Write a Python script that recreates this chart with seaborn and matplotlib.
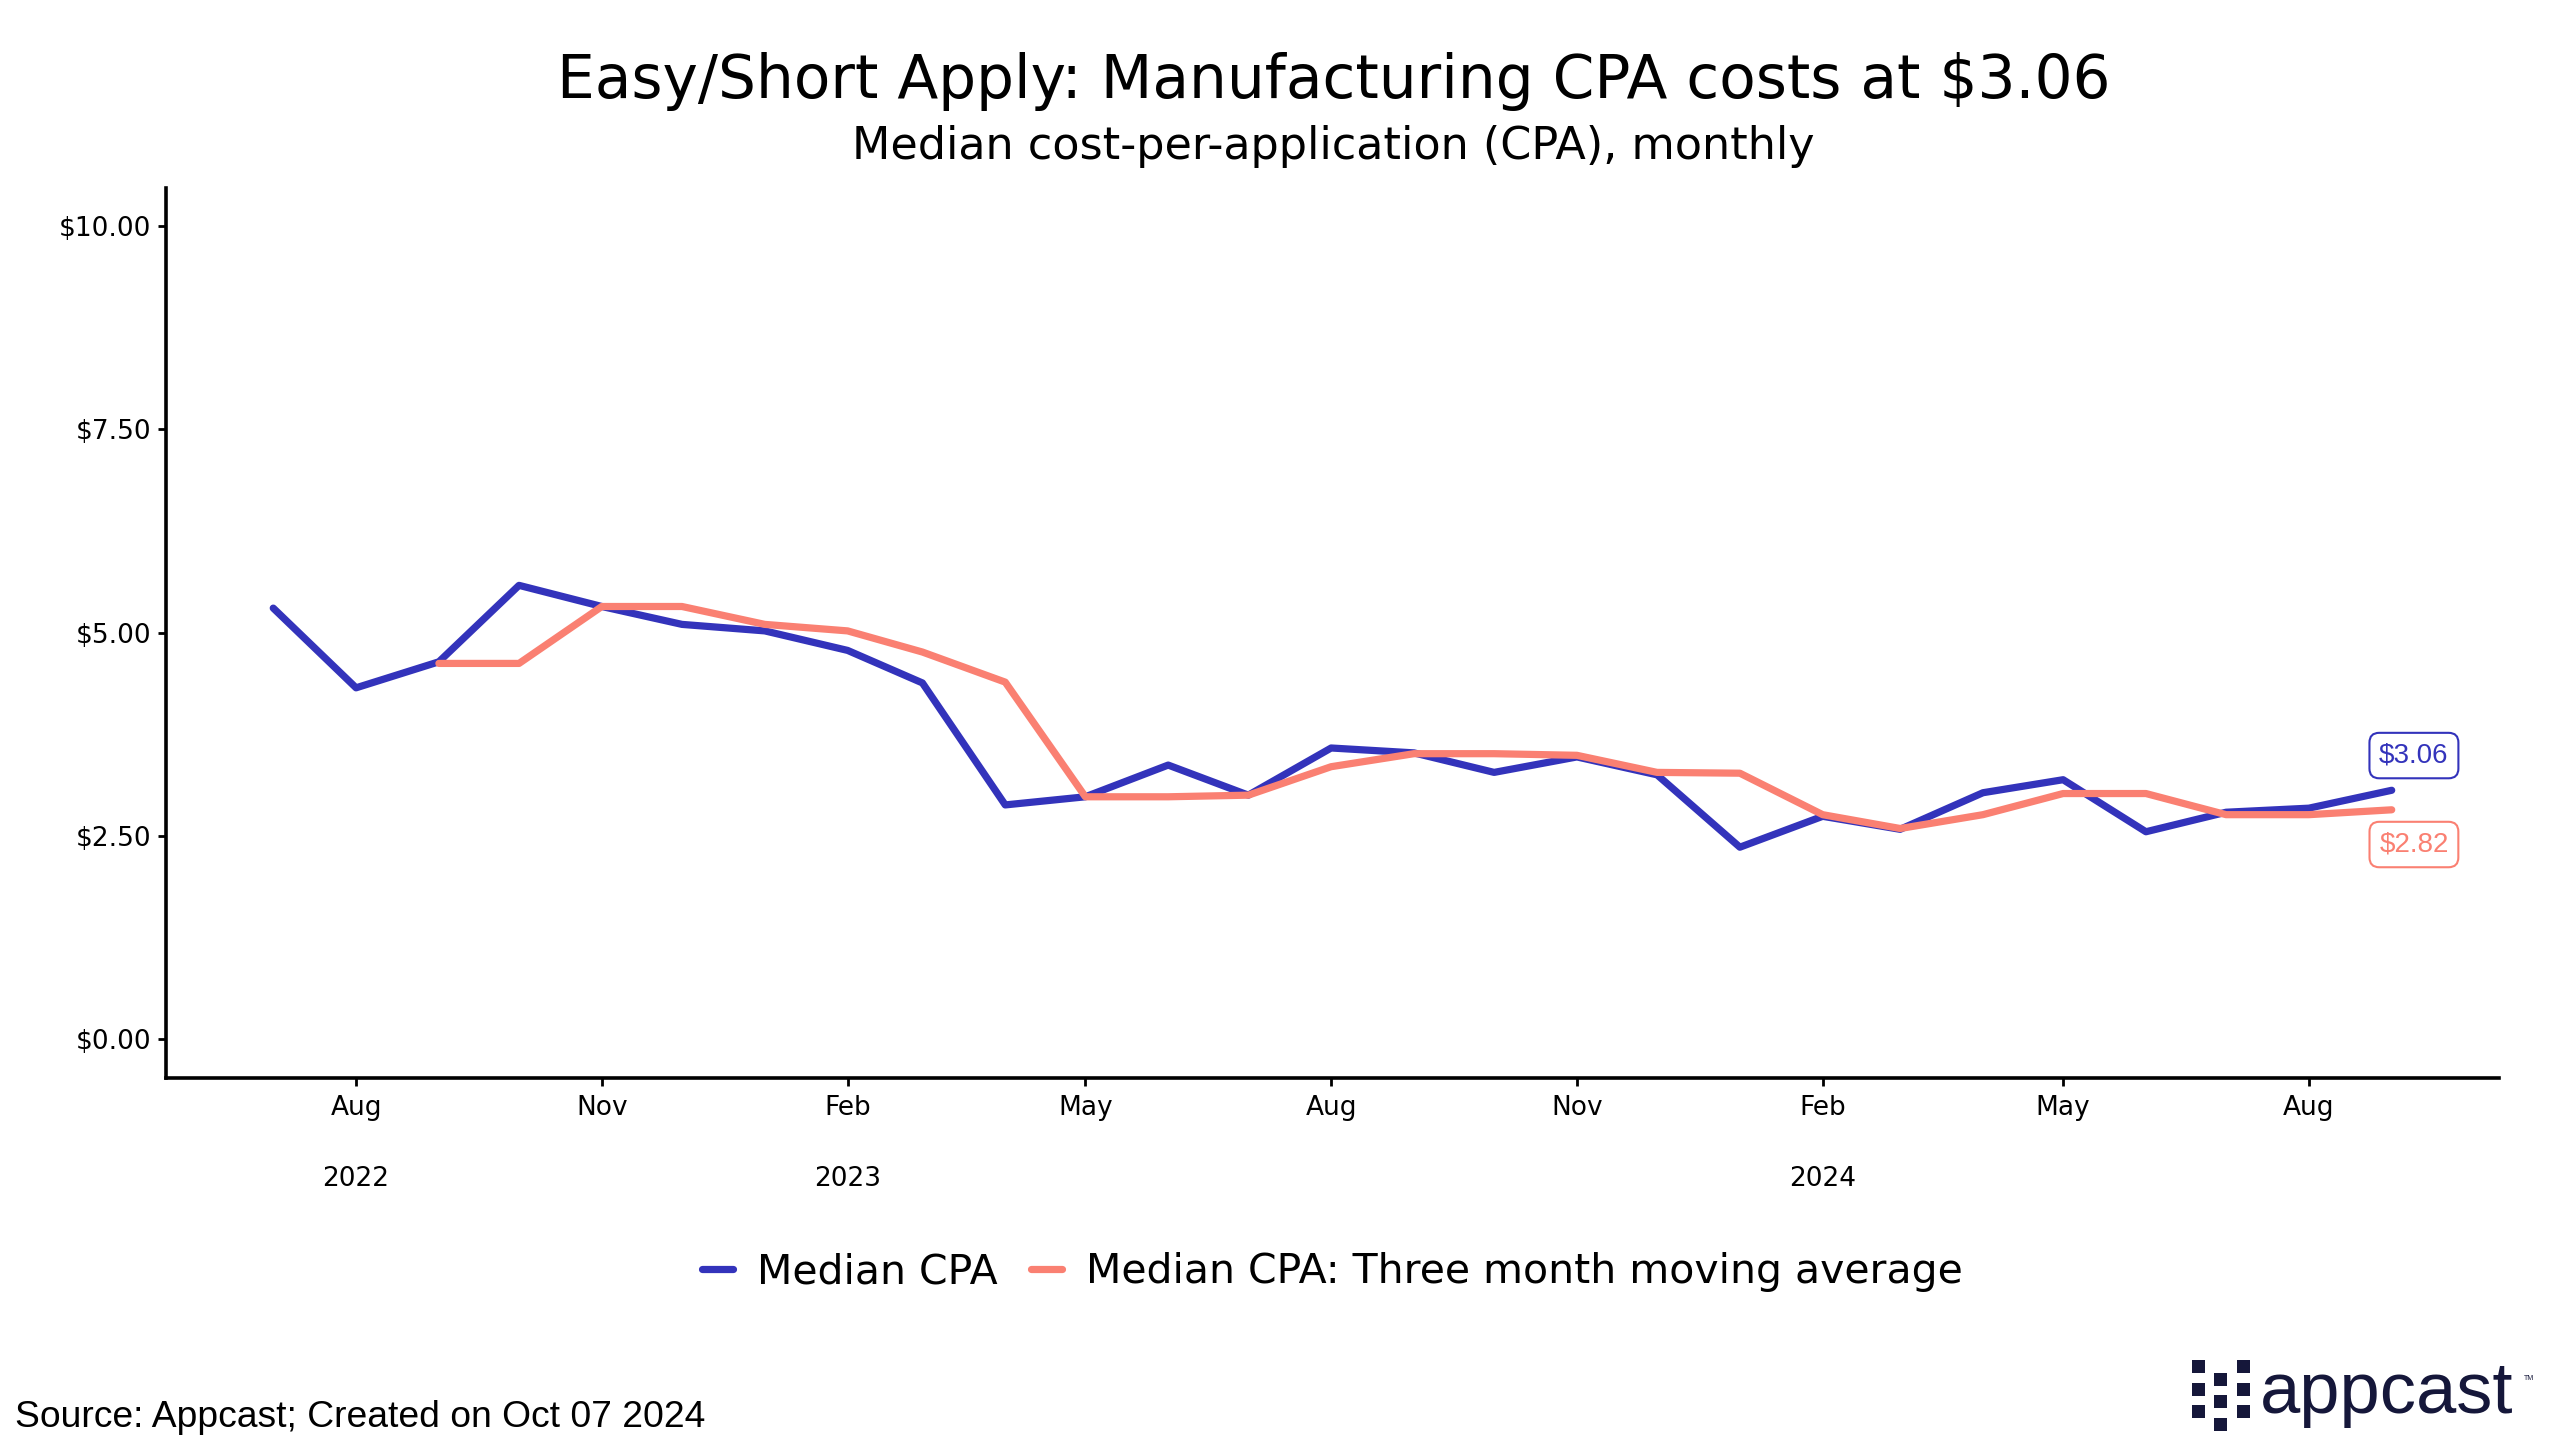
import pandas as pd
import numpy as np
import seaborn as sns
import matplotlib.pyplot as plt
import matplotlib.dates as mdates
from matplotlib.patches import Rectangle

# monthly values (Jul 2022 .. Sep 2024)
months = pd.date_range("2022-07-01", "2024-09-01", freq="MS")
median_cpa = [5.30, 4.32, 4.64, 5.58, 5.32, 5.10, 5.02, 4.78, 4.38, 2.88,
              2.98, 3.37, 3.00, 3.58, 3.52, 3.28, 3.47, 3.25, 2.36, 2.74,
              2.58, 3.03, 3.19, 2.55, 2.79, 2.84, 3.06]
moving_avg = [np.nan, np.nan, 4.62, 4.62, 5.32, 5.32, 5.10, 5.02, 4.76, 4.39,
              2.98, 2.98, 3.00, 3.35, 3.51, 3.51, 3.49, 3.28, 3.27, 2.76,
              2.59, 2.76, 3.02, 3.02, 2.76, 2.76, 2.82]
series_names = ["Median CPA", "Median CPA: Three month moving average"]
series_colors = ["#3333BB", "#FA8072"]
y_ticks = [0, 2.5, 5, 7.5, 10]
year_labels = ["2022", "2023", "2024"]
year_dates = pd.to_datetime(["2022-08-01", "2023-02-01", "2024-02-01"])


def main():
    df = pd.concat([
        pd.DataFrame({"month": months, "cpa": median_cpa, "series": series_names[0]}),
        pd.DataFrame({"month": months, "cpa": moving_avg, "series": series_names[1]}),
    ]).dropna()

    sns.set_theme(style="white")
    plt.rcParams["font.family"] = ["DejaVu Sans"]
    plt.rcParams["text.color"] = "black"

    fig = plt.figure(figsize=(25.6, 14.55), dpi=100)
    ax = fig.add_axes([0.065, 0.259, 0.911, 0.612])

    palette = dict(zip(series_names, series_colors))
    sns.lineplot(data=df, x="month", y="cpa", hue="series", hue_order=series_names,
                 palette=palette, linewidth=5.2, ax=ax)

    # axes look
    sns.despine(ax=ax)
    for side in ["left", "bottom"]:
        ax.spines[side].set_color("black")
        ax.spines[side].set_linewidth(2.6)
    ax.set_xlim(pd.Timestamp("2022-05-22"), pd.Timestamp("2024-10-11"))
    ax.set_ylim(-0.48, 10.47)
    ax.set_yticks(y_ticks)
    ax.set_yticklabels([f"${v:.2f}" for v in y_ticks])
    ax.xaxis.set_major_locator(mdates.MonthLocator(bymonth=[2, 5, 8, 11]))
    ax.xaxis.set_major_formatter(mdates.DateFormatter("%b"))
    ax.tick_params(axis="both", which="major", length=6, width=2, color="black",
                   labelsize=19, labelcolor="black", bottom=True, left=True)
    ax.tick_params(axis="x", pad=6)
    ax.tick_params(axis="y", pad=5)
    ax.set_xlabel("")
    ax.set_ylabel("")
    ax.grid(False)

    # year labels under the months
    for d, lab in zip(year_dates, year_labels):
        ax.text(d, -0.1135, lab, transform=ax.get_xaxis_transform(),
                ha="center", va="center", fontsize=19, color="black")

    # end-of-line value labels
    last = months[-1]
    ax.annotate(f"${median_cpa[-1]:.2f}", xy=(last, median_cpa[-1]),
                xytext=(16, 25), textcoords="offset points", ha="center", va="center",
                fontsize=20, color=series_colors[0], family="Liberation Sans",
                bbox=dict(boxstyle="round,pad=0.35", fc="white", ec=series_colors[0], lw=1.5))
    ax.annotate(f"${moving_avg[-1]:.2f}", xy=(last, moving_avg[-1]),
                xytext=(16, -25), textcoords="offset points", ha="center", va="center",
                fontsize=20, color=series_colors[1], family="Liberation Sans",
                bbox=dict(boxstyle="round,pad=0.35", fc="white", ec=series_colors[1], lw=1.5))

    # legend below the plot
    sns.move_legend(ax, "center", bbox_to_anchor=(0.5, -0.218), ncol=2, frameon=False,
                    title=None, fontsize=29.5, handlelength=0.75, handletextpad=0.6,
                    columnspacing=0.8, labelcolor="black")

    # titles
    fig.text(0.521, 0.944, "Easy/Short Apply: Manufacturing CPA costs at $3.06",
             ha="center", va="center", fontsize=43, color="black")
    fig.text(0.521, 0.899, "Median cost-per-application (CPA), monthly",
             ha="center", va="center", fontsize=32, color="black")

    # source note
    fig.text(0.006, 0.026, "Source: Appcast; Created on Oct 07 2024", ha="left",
             va="center", fontsize=26.8, color="black", family="Liberation Sans")

    # appcast logo
    W, H = 2560, 1455
    navy = "#15173A"
    sq = 13
    cells = [(2192, 1360), (2192, 1383), (2192, 1405),
             (2214, 1373), (2214, 1395), (2214, 1418),
             (2237, 1360), (2237, 1383), (2237, 1405)]
    for x0, y0 in cells:
        fig.add_artist(Rectangle((x0 / W, 1 - (y0 + sq) / H), sq / W, sq / H,
                                 transform=fig.transFigure, color=navy, lw=0))
    fig.text(2260 / W, 1 - 1413 / H, "appcast", ha="left", va="baseline",
             fontsize=52, color=navy, family="Liberation Sans")
    fig.text(2524 / W, 1 - 1378 / H, "TM", ha="left", va="center",
             fontsize=5, color=navy, family="Liberation Sans")

    fig.savefig("out.png", dpi=100, facecolor="white")


if __name__ == "__main__":
    main()
